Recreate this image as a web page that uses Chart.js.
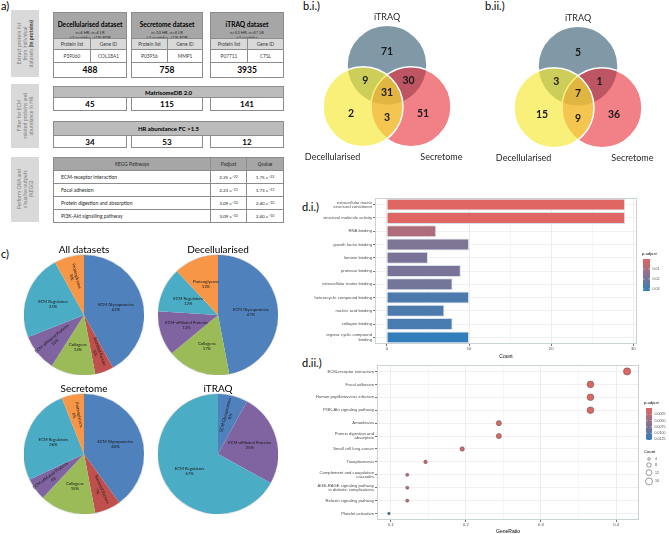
<!DOCTYPE html>
<html>
<head>
<meta charset="utf-8">
<script src="https://cdn.jsdelivr.net/npm/chart.js@4.4.1/dist/chart.umd.min.js"></script>
<style>
  body { margin: 0; background: #fff; }
  #page { position: relative; width: 669px; height: 534px; overflow: hidden; font-family: Lato, "Open Sans", sans-serif; color: #000; }
  .abs { position: absolute; box-sizing: border-box; }
  .cell { display: flex; align-items: center; justify-content: center; text-align: center; border: 1px solid #8c8c8c; background: #fff; }
  .side { background: #d9d9d9; color: #7f7f7f; font-size: 5.2px; line-height: 6.2px; display: flex; align-items: center; justify-content: center; }
  .side span { writing-mode: vertical-rl; transform: rotate(180deg); text-align: center; }
  .tag { position: absolute; font-size: 11px; line-height: 12px; }
  sup { font-size: 3.4px; vertical-align: 2px; line-height: 0; }
  canvas { position: absolute; }
</style>
</head>
<body>
<div id="page"></div>
<script>
// ---- panel a: workflow table ----
const datasetNames = ['Decellularised dataset', 'Secretome dataset', 'iTRAQ dataset'];
const datasetSamples = ['n=4 HR, n=4 LR', 'n=10 HR, n=4 LR', 'n=53 HR, n=47 LR'];
const datasetFilters = ['≥3 peptides, ≤1% FDR', '≥3 peptides, ≤1% FDR', '≥2 peptides'];
const exampleProteins = ['P39060', 'P03956', 'P07711'];
const exampleGenes = ['COL18A1', 'MMP1', 'CTSL'];
const proteinTotals = [488, 758, 3935];
const matrisomeTotals = [45, 115, 141];
const hrTotals = [34, 53, 12];
const keggTablePathways = ['ECM-receptor interaction', 'Focal adhesion', 'Protein digestion and absorption', 'PI3K-Akt signalling pathway'];
const keggTablePadjM = [2.25, 2.23, 3.09, 3.09];
const keggTablePadjE = [-22, -13, -10, -10];
const keggTableQM = [1.75, 1.73, 2.40, 2.40];
const keggTableQE = [-22, -13, -10, -10];

// ---- panel b: venn diagrams ----
const vennSets = ['iTRAQ', 'Decellularised', 'Secretome'];
// regions: iTRAQ only, Decell only, Secretome only, iTRAQ+Decell, iTRAQ+Secretome, Decell+Secretome, all three
const vennRegions = [[0], [1], [2], [0, 1], [0, 2], [1, 2], [0, 1, 2]];
const vennAllCounts = [71, 2, 51, 9, 30, 3, 31];
const vennHrCounts = [5, 15, 36, 3, 1, 9, 7];

// ---- panel c: matrisome categories (%) ----
const pieCategories = ['ECM Glycoproteins', 'Secreted Factors', 'Collagens', 'ECM-affiliated Proteins', 'ECM Regulators', 'Proteoglycans'];
const pieAll = [42, 5, 12, 10, 23, 8];
const pieDecell = [47, 0, 17, 12, 12, 12];
const pieSecretome = [40, 7, 15, 6, 26, 6];
const pieItraq = [8, 0, 0, 25, 67, 0];

// ---- panel d.i: GO molecular function ----
const goTerms = [['extracellular matrix', 'structural constituent'], 'structural molecule activity', 'RNA binding',
  'growth factor binding', 'laminin binding', 'protease binding', 'extracellular matrix binding',
  'heterocyclic compound binding', 'nucleic acid binding', 'collagen binding', ['organic cyclic compound', 'binding']];
const goCounts = [29, 29, 6, 10, 5, 9, 8, 10, 7, 8, 10];
const goPadj = [1e-12, 1e-12, 0.009, 0.018, 0.019, 0.019, 0.02, 0.027, 0.027, 0.028, 0.032];
const countTicks = [0, 10, 20, 30];
const goPadjTicks = [0.01, 0.02, 0.03];

// ---- panel d.ii: KEGG dot plot ----
const keggTerms = ['ECM-receptor interaction', 'Focal adhesion', 'Human papillomavirus infection', 'PI3K-Akt signaling pathway',
  'Amoebiasis', ['Protein digestion and', 'absorption'], 'Small cell lung cancer', 'Toxoplasmosis',
  ['Complement and coagulation', 'cascades'], ['AGE-RAGE signaling pathway', 'in diabetic complications'],
  'Relaxin signaling pathway', 'Platelet activation'];
const keggRatio = [0.4146, 0.3659, 0.3659, 0.3659, 0.2439, 0.2439, 0.1951, 0.1463, 0.1220, 0.1220, 0.1220, 0.0976];
const keggCounts = [17, 15, 15, 15, 10, 10, 8, 6, 5, 5, 5, 4];
const keggPadj = [1e-12, 2e-7, 5e-6, 5e-6, 3e-4, 3e-4, 9e-4, 1.2e-3, 1.8e-3, 1.8e-3, 1.8e-3, 0.0127];
const ratioTicks = [0.1, 0.2, 0.3, 0.4];
const keggPadjTicks = [0.0025, 0.005, 0.0075, 0.01, 0.0125];
const countLegend = [4, 8, 12, 16];

const gg = '"Liberation Sans", Arial, sans-serif';
Chart.defaults.font.family = gg;
Chart.defaults.animation = false;

const page = document.getElementById('page');
function div(x, y, w, h, cls, html, css) {
  const d = document.createElement('div');
  d.className = cls;
  d.style.cssText = `left:${x}px;top:${y}px;width:${w}px;height:${h}px;` + (css || '');
  d.innerHTML = html;
  page.appendChild(d);
  return d;
}
function canvas(x, y, w, h) {
  const c = document.createElement('canvas');
  c.width = w; c.height = h;
  c.style.left = x + 'px'; c.style.top = y + 'px';
  page.appendChild(c);
  return c;
}

// panel tags
[['a)', 1, 0], ['b.i.)', 303, 0], ['b.ii.)', 485, 0], ['c)', 1, 248], ['d.i.)', 302, 201], ['d.ii.)', 302, 357]]
  .forEach(([t, x, y]) => div(x, y, 40, 13, 'tag', t));

// ---------- panel a ----------
div(11, 10, 28, 67, 'abs side', '<span>Extract protein list<br>from individual<br>datasets <b style="color:#404040">(in proteins)</b></span>');
div(11, 84, 28, 64, 'abs side', '<span>Filter for ECM<br>related proteins and<br>abundance in HR</span>');
div(11, 157, 28, 65, 'abs side', '<span>Perform ORA and<br>visualise outputs<br>(KEGG)</span>');

const colX = [53, 131, 210], colW = [74, 72, 74];
datasetNames.forEach((name, i) => {
  const x = colX[i], w = colW[i], hw = Math.round(w / 2);
  div(x, 12, w, 27, 'abs cell',
    `<div><b style="font-size:6.6px;line-height:8px">${name}</b><div style="font-size:4.2px;line-height:5px;color:#262626">${datasetSamples[i]}<br>${datasetFilters[i]}</div></div>`,
    'background:#a6a6a6;');
  div(x, 38, hw + 1, 12, 'abs cell', 'Protein list', 'background:#d9d9d9;font-size:4.8px;color:#404040;');
  div(x + hw, 38, w - hw, 12, 'abs cell', 'Gene ID', 'background:#d9d9d9;font-size:4.8px;color:#404040;');
  div(x, 49, hw + 1, 14, 'abs cell', exampleProteins[i], 'font-size:4.8px;color:#404040;');
  div(x + hw, 49, w - hw, 14, 'abs cell', exampleGenes[i], 'font-size:4.8px;color:#404040;');
  div(x, 62, w, 16, 'abs cell', `<b>${proteinTotals[i]}</b>`, 'font-size:8.5px;');
  div(x, 97, w, 14, 'abs cell', `<b>${matrisomeTotals[i]}</b>`, 'font-size:8px;');
  div(x, 135, w, 13, 'abs cell', `<b>${hrTotals[i]}</b>`, 'font-size:8px;');
});
div(53, 86, 231, 12, 'abs cell', '<b>MatrisomeDB 2.0</b>', 'background:#bcbcbc;font-size:6px;');
div(53, 121, 231, 15, 'abs cell', '<b>HR abundance FC &gt;1.5</b>', 'background:#bcbcbc;font-size:6px;');

div(53, 157, 158, 14, 'abs cell', 'KEGG Pathways', 'background:#a6a6a6;font-size:4.8px;color:#262626;');
div(210, 157, 37, 14, 'abs cell', '<i>P</i>adjust', 'background:#a6a6a6;font-size:4.8px;color:#262626;');
div(246, 157, 38, 14, 'abs cell', '<i>Q</i> value', 'background:#a6a6a6;font-size:4.8px;color:#262626;');
const sci = (m, e) => `${m.toFixed(2)} e<sup>${String(e).replace('-', '−')}</sup>`;
keggTablePathways.forEach((p, i) => {
  const y = 170 + i * 13;
  div(53, y, 158, 14, 'abs cell', p, 'justify-content:flex-start;padding-left:7px;font-size:5px;color:#262626;');
  div(210, y, 37, 14, 'abs cell', sci(keggTablePadjM[i], keggTablePadjE[i]), 'font-size:4.6px;color:#262626;');
  div(246, y, 38, 14, 'abs cell', sci(keggTableQM[i], keggTableQE[i]), 'font-size:4.6px;color:#262626;');
});

// ---------- panel b: venn ----------
const vennColours = ['rgba(107,135,152,0.85)', 'rgba(245,232,50,0.66)', 'rgba(232,36,48,0.58)'];
const vennDrawOrder = [0, 2, 1];
const vennCentres = (() => {
  const s = 1.2, d = s / Math.sqrt(3);
  return [{ x: 0, y: d }, { x: -s / 2, y: -d / 2 }, { x: s / 2, y: -d / 2 }];
})();
const vennNameOffsets = [{ x: 0, y: 1.2 }, { x: -0.76, y: -1.25 }, { x: 0.76, y: -1.25 }];

const vennText = {
  id: 'vennText',
  afterDatasetsDraw(chart) {
    const { ctx, scales: { x, y } } = chart;
    const counts = chart.config.options.vennCounts;
    ctx.save();
    ctx.textAlign = 'center';
    ctx.textBaseline = 'middle';
    ctx.fillStyle = '#1a1a1a';
    ctx.font = 'bold 10.5px Lato';
    vennRegions.forEach((reg, i) => {
      let p;
      if (reg.length === 1) p = { x: vennCentres[reg[0]].x * 1.5, y: vennCentres[reg[0]].y * 1.5 };
      else if (reg.length === 2) {
        const k = [0, 1, 2].find(j => !reg.includes(j));
        p = { x: -vennCentres[k].x * 0.9, y: -vennCentres[k].y * 0.9 };
      } else p = { x: 0, y: 0 };
      ctx.fillText(counts[i], x.getPixelForValue(p.x), y.getPixelForValue(p.y));
    });
    ctx.font = '9px Lato';
    ctx.fillStyle = '#262626';
    vennSets.forEach((name, i) => {
      const c = vennCentres[i], o = vennNameOffsets[i];
      ctx.fillText(name, x.getPixelForValue(c.x + o.x), y.getPixelForValue(c.y + o.y));
    });
    ctx.restore();
  }
};

function vennChart(left, top, counts) {
  const cv = canvas(left, top, 170, 160);
  new Chart(cv, {
    type: 'scatter',
    data: {
      datasets: [{
        data: vennDrawOrder.map(i => vennCentres[i]),
        backgroundColor: vennDrawOrder.map(i => vennColours[i]),
        borderColor: '#ffffff',
        borderWidth: 1.5,
        pointRadius: ctx => {
          const s = ctx.chart.scales.x;
          return s ? s.getPixelForValue(1) - s.getPixelForValue(0) : 40;
        },
        clip: false
      }]
    },
    options: {
      responsive: false,
      vennCounts: counts,
      layout: { padding: 0 },
      events: [],
      plugins: { legend: { display: false }, tooltip: { enabled: false } },
      scales: {
        x: { type: 'linear', min: -2.175, max: 2.075, display: false },
        y: { type: 'linear', min: -1.925, max: 2.075, display: false }
      }
    },
    plugins: [vennText]
  });
}
vennChart(300, 10, vennAllCounts);
vennChart(491, 11, vennHrCounts);

// ---------- panel c: pies ----------
const pieColours = ['#4f81bd', '#c0504d', '#9bbb59', '#8064a2', '#4bacc6', '#f79646'];
const pieLabels = {
  id: 'pieLabels',
  afterDatasetsDraw(chart) {
    const ctx = chart.ctx;
    const meta = chart.getDatasetMeta(0);
    const vals = chart.data.datasets[0].data;
    ctx.save();
    const a0 = meta.data[0];
    ctx.strokeStyle = 'rgba(0,0,0,0.12)';
    ctx.lineWidth = 1;
    ctx.beginPath();
    ctx.arc(a0.x, a0.y, a0.outerRadius + 0.5, 0, Math.PI * 2);
    ctx.stroke();
    ctx.fillStyle = '#1a1a1a';
    ctx.font = '4.2px Lato';
    ctx.textAlign = 'center';
    ctx.textBaseline = 'middle';
    meta.data.forEach((arc, i) => {
      const v = vals[i];
      if (!v) return;
      const mid = (arc.startAngle + arc.endAngle) / 2;
      const narrow = v <= 10;
      const rr = arc.outerRadius * (narrow ? 0.66 : 0.55);
      ctx.save();
      ctx.translate(arc.x + Math.cos(mid) * rr, arc.y + Math.sin(mid) * rr);
      if (narrow) {
        let a = mid;
        if (Math.cos(a) < 0) a += Math.PI;
        ctx.rotate(a);
      }
      ctx.fillText(chart.data.labels[i], 0, -2.5);
      ctx.fillText(v + '%', 0, 2.5);
      ctx.restore();
    });
    ctx.restore();
  }
};
function pieChart(left, top, title, values) {
  const cv = canvas(left, top, 120, 130);
  new Chart(cv, {
    type: 'pie',
    data: { labels: pieCategories, datasets: [{ data: values, backgroundColor: pieColours, borderWidth: 0 }] },
    options: {
      responsive: false,
      events: [],
      layout: { padding: 0 },
      plugins: {
        legend: { display: false },
        tooltip: { enabled: false },
        title: { display: true, text: title, color: '#000', padding: 0, font: { family: 'Lato', size: 10, weight: 'normal', lineHeight: 1 } }
      }
    },
    plugins: [pieLabels]
  });
}
pieChart(24, 245, 'All datasets', pieAll);
pieChart(158, 245, 'Decellularised', pieDecell);
pieChart(24, 384, 'Secretome', pieSecretome);
pieChart(158, 384, 'iTRAQ', pieItraq);

// ---------- shared ggplot-like helpers ----------
const lowCol = [224, 102, 99], highCol = [50, 126, 186];
function padjColour(p, pMax) {
  const t = Math.min(1, Math.max(0, p / pMax));
  return `rgb(${lowCol.map((v, k) => Math.round(v + (highCol[k] - v) * t))})`;
}
const near = (arr, v) => arr.some(m => Math.abs(m - v) < 1e-9);
function withMinors(major) {
  const out = [];
  major.forEach((m, i) => { out.push(m); if (i < major.length - 1) out.push((m + major[i + 1]) / 2); });
  return out;
}
const panelBorder = {
  id: 'panelBorder',
  afterDatasetsDraw(chart) {
    const { ctx, chartArea: a } = chart;
    ctx.save();
    ctx.strokeStyle = '#c9d2d5';
    ctx.lineWidth = 1;
    ctx.strokeRect(a.left + 0.5, a.top + 0.5, a.right - a.left - 1, a.bottom - a.top - 1);
    ctx.restore();
  }
};
function colourbar(ctx, x, y, w, h, pMax, ticks, fmt) {
  const g = ctx.createLinearGradient(0, y, 0, y + h);
  g.addColorStop(0, padjColour(0, pMax));
  g.addColorStop(1, padjColour(pMax, pMax));
  ctx.fillStyle = g;
  ctx.fillRect(x, y, w, h);
  ctx.font = '3.6px ' + gg;
  ctx.textAlign = 'left';
  ctx.textBaseline = 'middle';
  ticks.forEach(t => {
    const ty = y + t / pMax * h;
    ctx.strokeStyle = '#fff';
    ctx.lineWidth = 0.5;
    ctx.beginPath();
    ctx.moveTo(x, ty); ctx.lineTo(x + 1.5, ty);
    ctx.moveTo(x + w - 1.5, ty); ctx.lineTo(x + w, ty);
    ctx.stroke();
    ctx.fillStyle = '#4d4d4d';
    ctx.fillText(fmt(t), x + w + 2.5, ty);
  });
}
function axisFont(size) { return { family: gg, size, lineHeight: 1.05 }; }

// ---------- panel d.i: bar chart ----------
const goPadjMax = Math.max(...goPadj);
const goLegend = {
  id: 'goLegend',
  afterDraw(chart) {
    const { ctx, chartArea: a } = chart;
    ctx.save();
    ctx.fillStyle = '#000';
    ctx.font = '4.2px ' + gg;
    ctx.textAlign = 'left';
    ctx.textBaseline = 'middle';
    ctx.fillText('p.adjust', a.right + 5, a.top + 56);
    colourbar(ctx, a.right + 6, a.top + 61, 7, 32, goPadjMax, goPadjTicks, v => v.toFixed(2));
    ctx.restore();
  }
};
new Chart(canvas(300, 190, 369, 170), {
  type: 'bar',
  data: {
    labels: goTerms,
    datasets: [{
      data: goCounts,
      backgroundColor: goPadj.map(p => padjColour(p, goPadjMax)),
      borderColor: '#d6e0e8',
      borderWidth: 1,
      barPercentage: 0.9,
      categoryPercentage: 1
    }]
  },
  options: {
    indexAxis: 'y',
    responsive: false,
    events: [],
    layout: { padding: { top: 8, right: 32, left: 0, bottom: 0 } },
    plugins: { legend: { display: false }, tooltip: { enabled: false } },
    scales: {
      x: {
        type: 'linear', min: -1.45, max: 30.45,
        afterBuildTicks: s => { s.ticks = withMinors(countTicks).map(v => ({ value: v })); },
        afterFit: s => { s.height = 16; },
        border: { display: false },
        grid: {
          color: c => (c.tick && near(countTicks, c.tick.value)) ? '#e8e8e8' : '#f4f4f4',
          tickColor: c => (c.tick && near(countTicks, c.tick.value)) ? '#4d4d4d' : 'rgba(0,0,0,0)',
          tickLength: 2, lineWidth: 0.8
        },
        ticks: { font: axisFont(4.2), color: '#4d4d4d', padding: 1, maxRotation: 0, autoSkip: false,
          callback: v => near(countTicks, v) ? String(v) : '' },
        title: { display: true, text: 'Count', color: '#000', font: axisFont(5), padding: { top: 0, bottom: 1 } }
      },
      y: {
        afterFit: s => { s.width = 75; },
        border: { display: false },
        grid: { offset: false, color: '#ececec', lineWidth: 0.8, tickColor: '#4d4d4d', tickLength: 2 },
        ticks: { font: axisFont(4.2), color: '#4d4d4d', padding: 1, autoSkip: false }
      }
    }
  },
  plugins: [panelBorder, goLegend]
});

// ---------- panel d.ii: dot plot ----------
const keggPadjMax = Math.max(...keggPadj);
const cMin = Math.min(...keggCounts), cMax = Math.max(...keggCounts);
const dotRadius = c => 1.3 + 2.3 * (Math.sqrt(c) - Math.sqrt(cMin)) / (Math.sqrt(cMax) - Math.sqrt(cMin));
const keggLegend = {
  id: 'keggLegend',
  afterDraw(chart) {
    const { ctx, chartArea: a } = chart;
    ctx.save();
    ctx.fillStyle = '#000';
    ctx.font = '4.2px ' + gg;
    ctx.textAlign = 'left';
    ctx.textBaseline = 'middle';
    ctx.fillText('p.adjust', a.right + 5, a.top + 38);
    colourbar(ctx, a.right + 7, a.top + 43, 6, 32, keggPadjMax, keggPadjTicks, v => v.toFixed(4));
    ctx.fillStyle = '#000';
    ctx.font = '4.2px ' + gg;
    ctx.fillText('Count', a.right + 5, a.top + 87);
    let cy = a.top + 94, prevR = 0;
    countLegend.forEach((c, k) => {
      const r = dotRadius(c);
      if (k) cy += prevR + r + 2.5;
      ctx.beginPath();
      ctx.arc(a.right + 10, cy, r, 0, Math.PI * 2);
      ctx.strokeStyle = '#333';
      ctx.lineWidth = 0.5;
      ctx.stroke();
      ctx.fillStyle = '#4d4d4d';
      ctx.font = '3.6px ' + gg;
      ctx.fillText(String(c), a.right + 16, cy);
      prevR = r;
    });
    ctx.restore();
  }
};
new Chart(canvas(300, 355, 369, 179), {
  type: 'scatter',
  data: {
    datasets: [{
      data: keggRatio.map((r, i) => ({ x: r, y: i })),
      backgroundColor: keggPadj.map(p => padjColour(p, keggPadjMax)),
      borderColor: '#4d4d4d',
      borderWidth: 0.5,
      pointRadius: c => dotRadius(keggCounts[c.dataIndex] || cMin)
    }]
  },
  options: {
    responsive: false,
    events: [],
    layout: { padding: { top: 10, right: 30, left: 0, bottom: 0 } },
    plugins: { legend: { display: false }, tooltip: { enabled: false } },
    scales: {
      x: {
        type: 'linear', min: 0.0817, max: 0.4305,
        afterBuildTicks: s => { s.ticks = withMinors(ratioTicks).map(v => ({ value: v })); },
        afterFit: s => { s.height = 14; },
        border: { display: false },
        grid: {
          color: c => (c.tick && near(ratioTicks, c.tick.value)) ? '#e8e8e8' : '#f4f4f4',
          tickColor: c => (c.tick && near(ratioTicks, c.tick.value)) ? '#4d4d4d' : 'rgba(0,0,0,0)',
          tickLength: 2, lineWidth: 0.8
        },
        ticks: { font: axisFont(4.2), color: '#4d4d4d', padding: 1, maxRotation: 0, autoSkip: false,
          callback: v => near(ratioTicks, v) ? String(v) : '' },
        title: { display: true, text: 'GeneRatio', color: '#000', font: axisFont(5), padding: { top: 0, bottom: 0 } }
      },
      y: {
        type: 'category', labels: keggTerms, offset: true,
        afterFit: s => { s.width = 77; },
        border: { display: false },
        grid: { offset: false, color: '#ececec', lineWidth: 0.8, tickColor: '#4d4d4d', tickLength: 2 },
        ticks: { font: axisFont(4.2), color: '#4d4d4d', padding: 1, autoSkip: false }
      }
    }
  },
  plugins: [panelBorder, keggLegend]
});
</script>
</body>
</html>
